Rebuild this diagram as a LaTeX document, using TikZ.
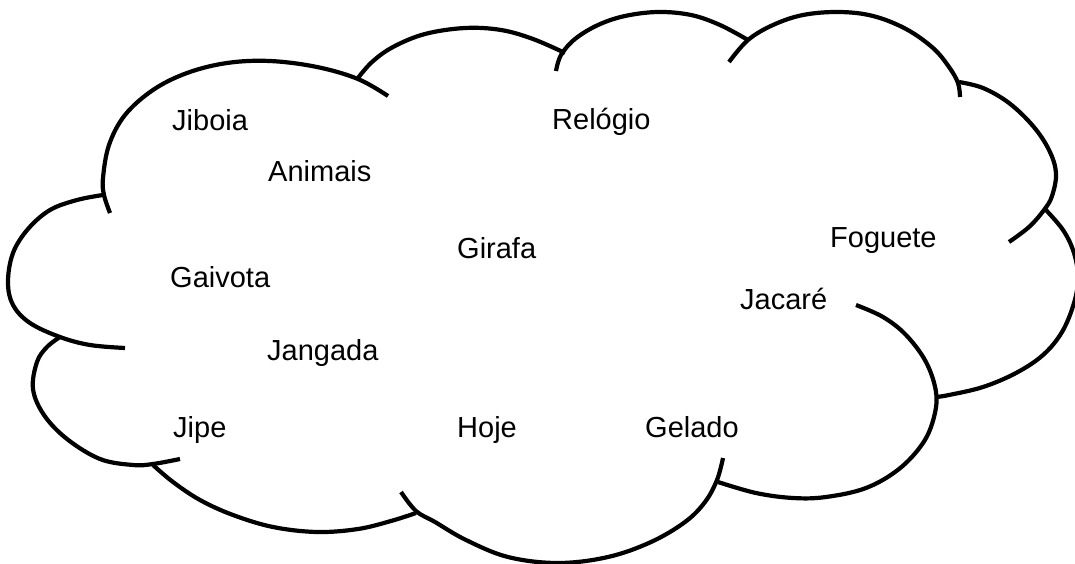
\documentclass[tikz,border=0pt]{standalone}
\usepackage{fontspec}
\setmainfont{Liberation Sans}
\begin{document}
\begin{tikzpicture}[x=1pt,y=-1pt,
  cloudline/.style={draw=black,line width=4.2pt,line join=round},
  word/.style={anchor=base west,inner sep=0pt,font=\fontsize{29}{34}\selectfont}]
\useasboundingbox (0,0) rectangle (1075,564);
% cloud lobes
\draw[cloudline] plot[smooth,tension=0.6] coordinates {(103,195) (77,200) (50,210) (28,229) (13,253) (8,282) (13,305) (30,323) (60,337) (90,345) (125,348)};
\draw[cloudline] plot[smooth,tension=0.6] coordinates {(110,213) (104,195) (103,178) (109,145) (125,115) (153,90) (187,73) (227,63) (270,61) (317,67) (358,79) (388,96)};
\draw[cloudline] plot[smooth,tension=0.6] coordinates {(358,78) (372,62) (393,47) (425,34) (465,28) (501,30) (533,39) (565,53)};
\draw[cloudline] plot[smooth,tension=0.6] coordinates {(556,71) (561,55) (575,39) (598,25) (625,16) (658,12) (691,15) (720,25) (748,40)};
\draw[cloudline] plot[smooth,tension=0.6] coordinates {(729,62) (748,40) (773,25) (803,15) (839,12) (873,16) (906,29) (933,48) (949,67) (958,83) (960,97)};
\draw[cloudline] plot[smooth,tension=0.6] coordinates {(959,82) (983,88) (1009,103) (1033,126) (1049,150) (1056,173) (1052,196) (1044,210) (1029,227) (1009,242)};
\draw[cloudline] plot[smooth,tension=0.6] coordinates {(1044,208) (1063,230) (1074,253) (1078,278) (1074,303) (1062,332) (1043,355) (1016,373) (983,387) (949,395) (936,397)};
\draw[cloudline] plot[smooth,tension=0.6] coordinates {(856,305) (883,317) (906,335) (926,362) (936,392) (934,417) (923,443) (899,469) (866,488) (826,497) (793,498) (756,493) (718,482)};
\draw[cloudline] plot[smooth,tension=0.6] coordinates {(723,458) (717,480) (705,502) (685,522) (651,542) (608,557) (558,563) (508,557) (466,540) (435,522) (416,511) (401,492)};
\draw[cloudline] plot[smooth,tension=0.6] coordinates {(416,513) (391,521) (358,529) (317,532) (273,527) (233,515) (200,500) (173,482) (153,465)};
\draw[cloudline] plot[smooth,tension=0.6] coordinates {(180,459) (153,464) (133,465) (100,459) (67,439) (44,415) (33,389) (37,362) (47,347) (60,337)};
% words
\node[word] (jiboia)  at (172,131) {Jiboia};
\node[word] (animais) at (268,182) {Animais};
\node[word] (relogio) at (552,130) {Relógio};
\node[word] (girafa)  at (457,258) {Girafa};
\node[word] (foguete) at (830,247) {Foguete};
\node[word] (gaivota) at (170,287) {Gaivota};
\node[word] (jacare)  at (740,309) {Jacaré};
\node[word] (jangada) at (267,360) {Jangada};
\node[word] (jipe)    at (173,437) {Jipe};
\node[word] (hoje)    at (457,437) {Hoje};
\node[word] (gelado)  at (645,437) {Gelado};
\end{tikzpicture}
\end{document}
